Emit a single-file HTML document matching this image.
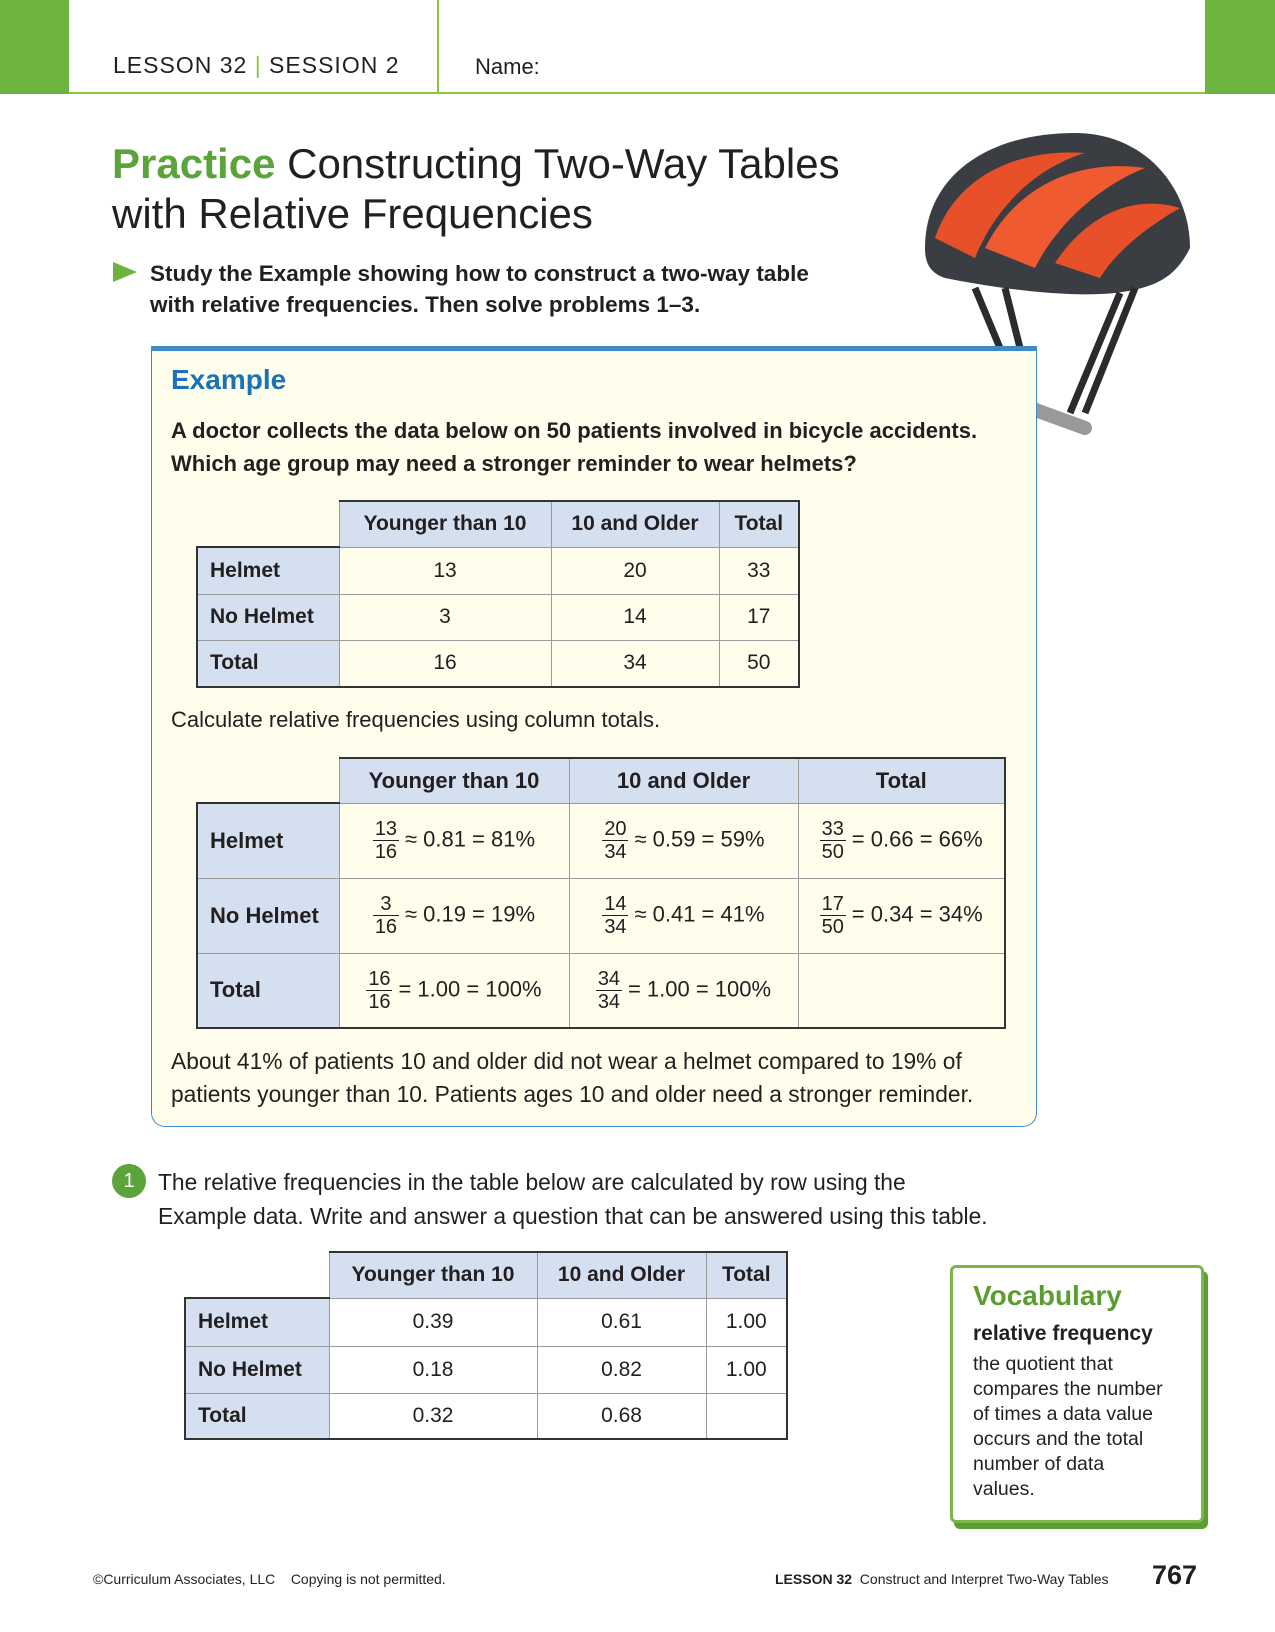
<!DOCTYPE html>
<html><head><meta charset="utf-8">
<style>
*{margin:0;padding:0;box-sizing:border-box}
body{width:1275px;height:1632px;position:relative;background:#fff;font-family:"Liberation Sans",sans-serif;color:#231f20;overflow:hidden}
.a{position:absolute;white-space:nowrap}
table{position:absolute;border-collapse:collapse;font-size:21px}
td{border:1px solid #9a9a9a;text-align:center;padding:0}
td.h{background:#d4dff0;font-weight:bold}
td.r{background:#d4dff0;font-weight:bold;text-align:left;padding-left:12px}
td.e{border:none;background:transparent}
.fr{display:inline-block;vertical-align:middle;text-align:center;font-size:20px;line-height:22px;margin-right:6px;min-width:26px}
.fr span{display:block}
.fr span:first-child{border-bottom:1.5px solid #231f20}
</style></head><body>
<div class="a" style="left:0;top:0;width:69px;height:94px;background:#6db33f"></div>
<div class="a" style="left:1205px;top:0;width:70px;height:94px;background:#6db33f"></div>
<div class="a" style="left:69px;top:92px;width:1136px;height:2px;background:#8cc63f"></div>
<div class="a" style="left:437px;top:0;width:1.5px;height:94px;background:#8cc63f"></div>
<div class="a" style="left:113px;top:52px;font-size:23px;letter-spacing:1px">LESSON 32 <span style="color:#8cc63f">|</span> SESSION 2</div>
<div class="a" style="left:475px;top:54px;font-size:22px">Name:</div>

<div class="a" style="left:112px;top:139px;font-size:42px;line-height:50px"><b style="color:#5ba33b">Practice</b> Constructing Two-Way Tables<br>with Relative Frequencies</div>
<div class="a" style="left:113px;top:262px;width:0;height:0;border-top:10px solid transparent;border-bottom:10px solid transparent;border-left:24px solid #6db33f"></div>
<div class="a" style="left:150px;top:258px;font-size:22.5px;font-weight:bold;line-height:31px">Study the Example showing how to construct a two-way table<br>with relative frequencies. Then solve problems 1–3.</div>

<svg class="a" style="left:915px;top:128px" width="285" height="330" viewBox="0 0 285 330">
<path d="M10 120 C10 50 70 5 160 5 C230 5 275 60 275 120 C260 150 240 160 200 165 C150 170 80 160 30 150 C15 145 10 135 10 120Z" fill="#3a3d42"/>
<path d="M20 110 C40 50 100 20 170 25 C120 40 80 80 60 130Z" fill="#e8502a"/>
<path d="M70 120 C100 60 160 30 230 40 C180 60 140 100 120 140Z" fill="#ef5a30"/>
<path d="M140 135 C170 90 215 65 265 80 C230 100 200 125 185 150Z" fill="#e8502a"/>
<path d="M60 160 L110 280 M90 160 L120 280 M205 165 L155 285 M220 160 L170 285" stroke="#2b2b2e" stroke-width="7" fill="none"/>
<path d="M115 280 L170 300" stroke="#999" stroke-width="14" stroke-linecap="round"/>
</svg>

<div class="a" style="left:151px;top:346px;width:886px;height:781px;background:#fffdeb;border:1.5px solid #3d8bcb;border-top:5px solid #3d8bcb;border-radius:0 0 14px 14px"></div>
<div class="a" style="left:171px;top:364px;font-size:28px;font-weight:bold;color:#1a72b8">Example</div>
<div class="a" style="left:171px;top:414px;font-size:22px;font-weight:bold;line-height:33px">A doctor collects the data below on 50 patients involved in bicycle accidents.<br>Which age group may need a stronger reminder to wear helmets?</div>

<table style="left:196px;top:500px">
<colgroup><col style="width:142px"><col style="width:212px"><col style="width:168px"><col style="width:80px"></colgroup>
<tr style="height:46px"><td class="e"></td><td class="h" style="border-top:2px solid #333">Younger than 10</td><td class="h" style="border-top:2px solid #333">10 and Older</td><td class="h" style="border-top:2px solid #333;border-right:2px solid #333">Total</td></tr>
<tr style="height:47px"><td class="r" style="border-left:2px solid #333;border-top:2px solid #333">Helmet</td><td>13</td><td>20</td><td style="border-right:2px solid #333">33</td></tr>
<tr style="height:46px"><td class="r" style="border-left:2px solid #333">No Helmet</td><td>3</td><td>14</td><td style="border-right:2px solid #333">17</td></tr>
<tr style="height:47px"><td class="r" style="border-left:2px solid #333;border-bottom:2px solid #333">Total</td><td style="border-bottom:2px solid #333">16</td><td style="border-bottom:2px solid #333">34</td><td style="border-right:2px solid #333;border-bottom:2px solid #333">50</td></tr>
</table>

<div class="a" style="left:171px;top:707px;font-size:22px">Calculate relative frequencies using column totals.</div>

<table style="left:196px;top:757px;font-size:22px">
<colgroup><col style="width:142px"><col style="width:230px"><col style="width:229px"><col style="width:207px"></colgroup>
<tr style="height:45px"><td class="e"></td><td class="h" style="border-top:2px solid #333">Younger than 10</td><td class="h" style="border-top:2px solid #333">10 and Older</td><td class="h" style="border-top:2px solid #333;border-right:2px solid #333">Total</td></tr>
<tr style="height:75px"><td class="r" style="border-left:2px solid #333;border-top:2px solid #333">Helmet</td><td><span class="fr"><span>13</span><span>16</span></span>≈ 0.81 = 81%</td><td><span class="fr"><span>20</span><span>34</span></span>≈ 0.59 = 59%</td><td style="border-right:2px solid #333"><span class="fr"><span>33</span><span>50</span></span>= 0.66 = 66%</td></tr>
<tr style="height:75px"><td class="r" style="border-left:2px solid #333">No Helmet</td><td><span class="fr"><span>3</span><span>16</span></span>≈ 0.19 = 19%</td><td><span class="fr"><span>14</span><span>34</span></span>≈ 0.41 = 41%</td><td style="border-right:2px solid #333"><span class="fr"><span>17</span><span>50</span></span>= 0.34 = 34%</td></tr>
<tr style="height:75px"><td class="r" style="border-left:2px solid #333;border-bottom:2px solid #333">Total</td><td style="border-bottom:2px solid #333"><span class="fr"><span>16</span><span>16</span></span>= 1.00 = 100%</td><td style="border-bottom:2px solid #333"><span class="fr"><span>34</span><span>34</span></span>= 1.00 = 100%</td><td style="border-right:2px solid #333;border-bottom:2px solid #333"></td></tr>
</table>

<div class="a" style="left:171px;top:1045px;font-size:22.8px;line-height:33px">About 41% of patients 10 and older did not wear a helmet compared to 19% of<br>patients younger than 10. Patients ages 10 and older need a stronger reminder.</div>

<div class="a" style="left:112px;top:1164px;width:34px;height:34px;border-radius:50%;background:#5ba33b;color:#fff;font-size:20px;text-align:center;line-height:34px">1</div>
<div class="a" style="left:158px;top:1165px;font-size:22.8px;line-height:34px">The relative frequencies in the table below are calculated by row using the<br>Example data. Write and answer a question that can be answered using this table.</div>

<table style="left:184px;top:1251px">
<colgroup><col style="width:144px"><col style="width:208px"><col style="width:169px"><col style="width:81px"></colgroup>
<tr style="height:46px"><td class="e"></td><td class="h" style="border-top:2px solid #333">Younger than 10</td><td class="h" style="border-top:2px solid #333">10 and Older</td><td class="h" style="border-top:2px solid #333;border-right:2px solid #333">Total</td></tr>
<tr style="height:48px"><td class="r" style="border-left:2px solid #333;border-top:2px solid #333">Helmet</td><td>0.39</td><td>0.61</td><td style="border-right:2px solid #333">1.00</td></tr>
<tr style="height:47px"><td class="r" style="border-left:2px solid #333">No Helmet</td><td>0.18</td><td>0.82</td><td style="border-right:2px solid #333">1.00</td></tr>
<tr style="height:46px"><td class="r" style="border-left:2px solid #333;border-bottom:2px solid #333">Total</td><td style="border-bottom:2px solid #333">0.32</td><td style="border-bottom:2px solid #333">0.68</td><td style="border-right:2px solid #333;border-bottom:2px solid #333"></td></tr>
</table>

<div class="a" style="left:950px;top:1265px;width:254px;height:258px;background:#fff;border:3px solid #7ab648;border-radius:6px;box-shadow:4px 6px 0 #5a9e32"></div>
<div class="a" style="left:973px;top:1280px;font-size:28px;font-weight:bold;color:#5a9e32">Vocabulary</div>
<div class="a" style="left:973px;top:1322px;font-size:21px;font-weight:bold">relative frequency</div>
<div class="a" style="left:973px;top:1352px;font-size:19.5px;line-height:25px">the quotient that<br>compares the number<br>of times a data value<br>occurs and the total<br>number of data<br>values.</div>

<div class="a" style="left:93px;top:1571px;font-size:14px">©Curriculum Associates, LLC &nbsp;&nbsp; Copying is not permitted.</div>
<div class="a" style="left:775px;top:1571px;font-size:14px"><b>LESSON 32</b>&nbsp; Construct and Interpret Two-Way Tables</div>
<div class="a" style="left:1152px;top:1560px;font-size:27px;font-weight:bold">767</div>
</body></html>
